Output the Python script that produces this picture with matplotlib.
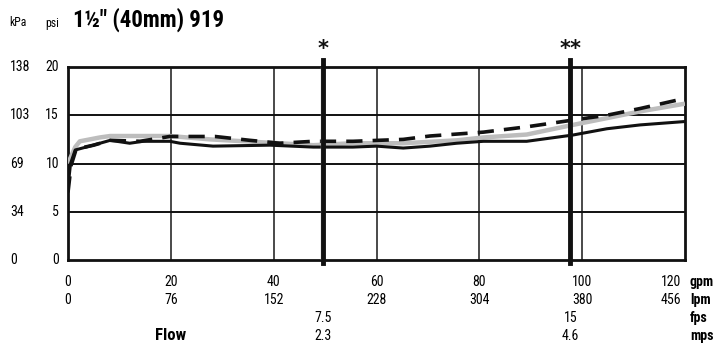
import matplotlib
matplotlib.use("Agg")
import matplotlib.pyplot as plt
import matplotlib.transforms as mtransforms
from matplotlib import font_manager

names = {f.name for f in font_manager.fontManager.ttflist}
FONT = 'Liberation Sans'
for cand in ['Roboto Condensed', 'Liberation Sans Narrow', 'Archivo Narrow', 'Barlow Semi Condensed']:
    if cand in names:
        FONT = cand
        break
plt.rcParams['font.family'] = [FONT, 'DejaVu Sans']

# ---- data ----
title = '1½" (40mm) 919'
gpm_ticks = [0, 20, 40, 60, 80, 100, 120]
lpm_labels = ['0', '76', '152', '228', '304', '380', '456']
psi_ticks = [0, 5, 10, 15, 20]
kpa_labels = ['0', '34', '69', '103', '138']
fps_marks = [49.6, 97.7]
fps_labels = ['7.5', '15']
mps_labels = ['2.3', '4.6']
star_labels = ['*', '**']

black_x = [0, 0.5, 1.4, 4.9, 8.2, 12, 14.6, 19.8, 21.8, 28.2, 39.3, 47.7, 55.4, 60, 65.2, 70.4, 75.6, 80.8, 89.2, 98.2, 104.8, 111.3, 120]
black_y = [7.6, 10.0, 11.4, 11.9, 12.4, 12.1, 12.3, 12.3, 12.1, 11.8, 11.9, 11.7, 11.7, 11.8, 11.6, 11.8, 12.1, 12.3, 12.3, 12.95, 13.6, 14.0, 14.35]

grey_x = [0, 1.4, 2.3, 6.2, 8.2, 19.8, 27.6, 39.3, 47.7, 55.4, 65.2, 75.6, 80.8, 89.2, 98.2, 104.8, 111.3, 120]
grey_y = [10.0, 11.7, 12.3, 12.7, 12.85, 12.85, 12.5, 12.15, 11.9, 12.1, 12.1, 12.4, 12.7, 13.0, 14.0, 14.7, 15.4, 16.2]

dash_x = [0, 0.6, 1.6, 5.0, 8.2, 14.0, 19.8, 28.6, 35.4, 41.2, 47.7, 55.4, 65.2, 70.4, 75.6, 80.8, 89.2, 98.2, 104.8, 111.3, 120]
dash_y = [7.0, 9.8, 11.5, 11.9, 12.4, 12.3, 12.8, 12.8, 12.4, 12.1, 12.3, 12.3, 12.5, 12.85, 13.05, 13.25, 13.8, 14.5, 15.0, 15.7, 16.75]

fig = plt.figure(figsize=(7.19, 3.47), dpi=100)
ax = fig.add_axes([68/719, 1-260/347, (685-68)/719, (260-67)/347])
ax.set_xlim(0, 120)
ax.set_ylim(0, 20)

# grid
for g in gpm_ticks[1:-1]:
    ax.axvline(g, color='#2a2a2a', lw=1.2, zorder=1)
for p in psi_ticks[1:-1]:
    ax.axhline(p, color='#111111', lw=1.4, zorder=1)
for s in ax.spines.values():
    s.set_linewidth(2.0)
    s.set_color('#111111')

# curves
ax.plot(grey_x, grey_y, color='#bdbdbd', lw=3.2, solid_capstyle='butt', zorder=3)
ax.plot(black_x, black_y, color='#111111', lw=2.2, zorder=4)
ax.plot(dash_x, dash_y, color='#111111', lw=2.6, dashes=(4.5, 2.8), zorder=5)

# velocity marker lines
ax.plot([fps_marks[0] - 0.45] * 2, [0, 20], color='#aaaaaa', lw=1.0, zorder=5)
for xm, st in zip(fps_marks, star_labels):
    ax.plot([xm, xm], [-0.3, 20.7], color='#111111', lw=3.5, clip_on=False, zorder=6)
    ax.text(xm, 20.8, st, ha='center', va='bottom', fontsize=15, fontweight='bold',
            family='DejaVu Sans', color='#111111')

ax.set_xticks([])
ax.set_yticks([])

trans = mtransforms.blended_transform_factory(ax.transData, fig.transFigure)
def fy(py):
    return 1 - py/347

fs = 10
for g, l in zip(gpm_ticks, lpm_labels):
    if g == gpm_ticks[-1]:
        xx, ha = 681/719, 'right'
        ax.text(xx, fy(282), str(g), transform=fig.transFigure, ha=ha, va='center', fontsize=fs)
        ax.text(xx, fy(300), l, transform=fig.transFigure, ha=ha, va='center', fontsize=fs)
    else:
        ax.text(g, fy(282), str(g), transform=trans, ha='center', va='center', fontsize=fs)
        ax.text(g, fy(300), l, transform=trans, ha='center', va='center', fontsize=fs)
for xm, f, m in zip(fps_marks, fps_labels, mps_labels):
    ax.text(xm, fy(318), f, transform=trans, ha='center', va='center', fontsize=fs)
    ax.text(xm, fy(336), m, transform=trans, ha='center', va='center', fontsize=fs)

for lbl, py in zip(['gpm', 'lpm', 'fps', 'mps'], [282, 300, 318, 336]):
    fig.text(690/719, fy(py), lbl, ha='left', va='center', fontsize=fs, fontweight='bold')
fig.text(171/719, fy(335), 'Flow', ha='center', va='center', fontsize=12, fontweight='bold')

transy = mtransforms.blended_transform_factory(fig.transFigure, ax.transData)
for p, k in zip(psi_ticks, kpa_labels):
    ax.text(59/719, p, str(p), transform=transy, ha='right', va='center', fontsize=fs)
    ax.text(10/719, p, k, transform=transy, ha='left', va='center', fontsize=fs)

fig.text(9/719, fy(22), 'kPa', ha='left', va='center', fontsize=8.5)
fig.text(45/719, fy(23), 'psi', ha='left', va='center', fontsize=8.5)
fig.text(73/719, fy(20), title, ha='left', va='center', fontsize=16.5, fontweight='bold')

fig.savefig('out.png', dpi=100)
